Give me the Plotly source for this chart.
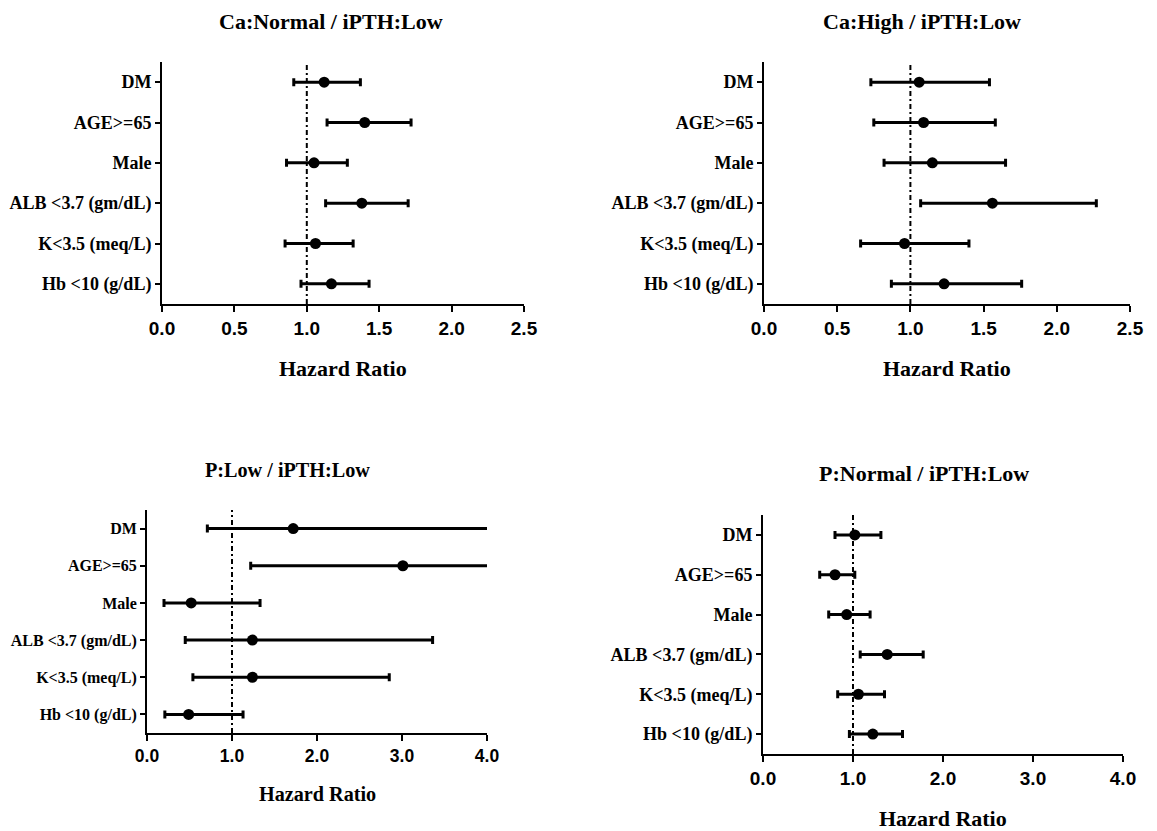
import plotly.graph_objects as go

categories = ["DM", "AGE>=65", "Male", "ALB <3.7 (gm/dL)", "K<3.5 (meq/L)", "Hb <10 (g/dL)"]

titles = ["Ca:Normal / iPTH:Low", "Ca:High / iPTH:Low", "P:Low / iPTH:Low", "P:Normal / iPTH:Low"]

ca_normal_hr = [1.12, 1.40, 1.05, 1.38, 1.06, 1.17]
ca_normal_lo = [0.91, 1.14, 0.86, 1.13, 0.85, 0.96]
ca_normal_hi = [1.37, 1.72, 1.28, 1.70, 1.32, 1.43]

ca_high_hr = [1.06, 1.09, 1.15, 1.56, 0.96, 1.23]
ca_high_lo = [0.73, 0.75, 0.82, 1.07, 0.66, 0.87]
ca_high_hi = [1.54, 1.58, 1.65, 2.27, 1.40, 1.76]

p_low_hr = [1.72, 3.01, 0.52, 1.24, 1.24, 0.49]
p_low_lo = [0.71, 1.22, 0.20, 0.45, 0.54, 0.21]
p_low_hi = [4.5, 4.5, 1.33, 3.36, 2.85, 1.13]   # first two run past the axis end (clipped at 4.0)

p_normal_hr = [1.02, 0.80, 0.93, 1.38, 1.06, 1.22]
p_normal_lo = [0.80, 0.63, 0.73, 1.08, 0.83, 0.96]
p_normal_hi = [1.31, 1.02, 1.19, 1.78, 1.35, 1.55]

x_ranges = [[0, 2.5], [0, 2.5], [0, 4.0], [0, 4.0]]
x_tickvals = [[0, 0.5, 1.0, 1.5, 2.0, 2.5], [0, 0.5, 1.0, 1.5, 2.0, 2.5],
              [0, 1, 2, 3, 4], [0, 1, 2, 3, 4]]
x_ticktext = [["0.0", "0.5", "1.0", "1.5", "2.0", "2.5"], ["0.0", "0.5", "1.0", "1.5", "2.0", "2.5"],
              ["0.0", "1.0", "2.0", "3.0", "4.0"], ["0.0", "1.0", "2.0", "3.0", "4.0"]]

series = [
    (ca_normal_hr, ca_normal_lo, ca_normal_hi),
    (ca_high_hr, ca_high_lo, ca_high_hi),
    (p_low_hr, p_low_lo, p_low_hi),
    (p_normal_hr, p_normal_lo, p_normal_hi),
]

OFF = 8  # page body margin
W, H = 1157 - OFF, 831 - OFF
# plot areas in page pixels: (left, right, top, bottom)
boxes = [(162, 524, 62, 304), (764, 1130, 62, 304), (147, 487, 510, 733), (763, 1123, 515, 754)]
title_pos = [(331, 22), (922, 22), (287, 470), (924, 473)]
xlabel_y = [368, 369, 794, 818]
scale = [1.0, 1.0, 0.92, 1.0]
cat_size = [18, 18, 16, 18]

SERIF = "Liberation Serif"
SANS = "Liberation Sans"


def px(v):
    return v - OFF


fig = go.Figure()
annotations = []
shapes = []
for i, ((hr, lo, hi), box) in enumerate(zip(series, boxes)):
    n = "" if i == 0 else str(i + 1)
    xa, ya = "x" + n, "y" + n
    s = scale[i]
    plus = [h - m for h, m in zip(hi, hr)]
    minus = [m - l for m, l in zip(hr, lo)]
    fig.add_trace(go.Scatter(
        x=hr, y=categories, xaxis=xa, yaxis=ya, mode="markers",
        marker=dict(color="black", size=11),
        error_x=dict(type="data", symmetric=False, array=plus, arrayminus=minus,
                     color="black", thickness=3, width=4),
        showlegend=False, cliponaxis=True,
    ))
    l, r, t, b = [px(v) for v in box]
    xdom = [l / W, r / W]
    ydom = [1 - b / H, 1 - t / H]
    fig.update_layout(**{
        "xaxis" + n: dict(domain=xdom, anchor=ya, range=x_ranges[i], tickvals=x_tickvals[i],
                          ticktext=x_ticktext[i], showline=True, linecolor="black", linewidth=2,
                          ticks="outside", ticklen=6, tickwidth=2, tickcolor="black",
                          showgrid=False, zeroline=False, automargin=False,
                          tickfont=dict(family=SANS, size=round(19 * s, 1), color="black", weight="bold")),
        "yaxis" + n: dict(domain=ydom, anchor=xa, type="category",
                          categoryorder="array", categoryarray=categories[::-1],
                          range=[-0.5, 5.5], showline=True, linecolor="black", linewidth=2,
                          ticks="outside", ticklen=5, tickwidth=2, tickcolor="black",
                          showgrid=False, zeroline=False, automargin=False,
                          tickfont=dict(family=SERIF, size=cat_size[i], color="black", weight="bold")),
    })
    shapes.append(dict(type="line", xref=xa, yref=ya + " domain", x0=1, x1=1, y0=0, y1=1,
                       line=dict(color="black", width=2, dash="5px,3px,2px,3px"), layer="below"))
    tx, ty = title_pos[i]
    annotations.append(dict(text=titles[i], xref="paper", yref="paper", x=px(tx) / W, y=1 - px(ty) / H,
                            xanchor="center", yanchor="middle", showarrow=False,
                            font=dict(family=SERIF, size=round(22 * s, 1), color="black", weight="bold")))
    annotations.append(dict(text="Hazard Ratio", xref="paper", yref="paper", x=(l + r) / 2 / W,
                            y=1 - px(xlabel_y[i]) / H, xanchor="center", yanchor="middle", showarrow=False,
                            font=dict(family=SERIF, size=round(22 * s, 1), color="black", weight="bold")))

fig.update_layout(width=W, height=H, margin=dict(l=0, r=0, t=0, b=0),
                  paper_bgcolor="white", plot_bgcolor="white",
                  annotations=annotations, shapes=shapes)

fig.write_html("out.html")
